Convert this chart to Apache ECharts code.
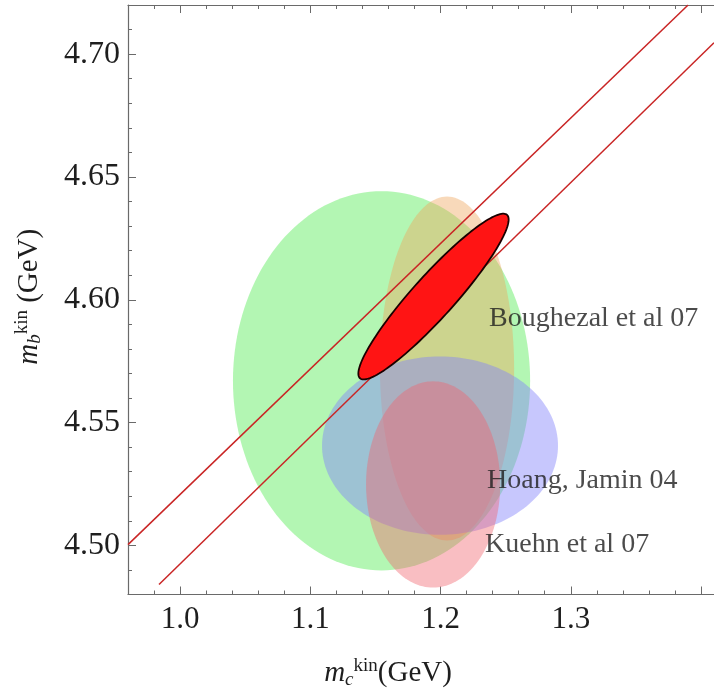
<!DOCTYPE html>
<html><head><meta charset="utf-8">
<script src="https://cdn.jsdelivr.net/npm/echarts@6/dist/echarts.min.js"></script>
<style>html,body{margin:0;padding:0;background:#fff}#c{width:714px;height:694px}</style>
</head><body><div id="c"></div>
<script>
// ---- axis ticks ----
const xMajorTicks = [1.0, 1.1, 1.2, 1.3];
const xMinorTicks = [0.96, 0.98, 1.02, 1.04, 1.06, 1.08, 1.12, 1.14, 1.16, 1.18, 1.22, 1.24, 1.26, 1.28, 1.32, 1.34, 1.36, 1.38, 1.40];
const yMajorTicks = [4.50, 4.55, 4.60, 4.65, 4.70];
const yMinorTicks = [4.48, 4.49, 4.51, 4.52, 4.53, 4.54, 4.56, 4.57, 4.58, 4.59, 4.61, 4.62, 4.63, 4.64, 4.66, 4.67, 4.68, 4.69, 4.71, 4.72];

// ---- regions: [centre x, centre y, half-axis A (dx, dy), half-axis B (dx, dy)] ----
const greenRegion  = [1.1547, 4.5670, 0.1141, 0, 0, 0.0772];
const boughezal07  = [1.2050, 4.5720, 0.0515, 0, 0, 0.0700];
const hoangJamin04 = [1.1996, 4.5406, 0.0906, 0, 0, 0.0363];
const kuehn07      = [1.1943, 4.5248, 0.0515, 0, 0, 0.0420];
const fitRegion    = [1.1946, 4.6013, 0.05645, 0.03326, 0.0120, -0.00570];

// ---- band lines ----
const upperLine = [[0.960, 4.5003], [1.3901, 4.7200]];
const lowerLine = [[0.9838, 4.4841], [1.4100, 4.7046]];

// ---- annotations ----
const labelTexts  = ['Boughezal et al 07', 'Hoang, Jamin 04', 'Kuehn et al 07'];
const labelPoints = [[1.2373, 4.5925], [1.2357, 4.5262], [1.2342, 4.5002]];

const SERIF = "'Liberation Serif', 'DejaVu Serif', serif";
const AXIS_COLOR = '#6a6a6a';
const TEXT = '#1e1e1e';

function ellipseSeries(region, fill, stroke, lw, z) {
  return {
    type: 'custom', z: z, clip: true, silent: true,
    data: [region],
    renderItem: function (params, api) {
      const cx = api.value(0), cy = api.value(1);
      const ax = api.value(2), ay = api.value(3), bx = api.value(4), by = api.value(5);
      const pts = [];
      const N = 160;
      for (let i = 0; i < N; i++) {
        const t = 2 * Math.PI * i / N;
        const c = Math.cos(t), s = Math.sin(t);
        pts.push(api.coord([cx + ax * c + bx * s, cy + ay * c + by * s]));
      }
      return { type: 'polygon', shape: { points: pts },
        style: { fill: fill, stroke: stroke || null, lineWidth: lw || 0 } };
    }
  };
}

function xAxisDef(pos, ticks, len, showLabel, showLine) {
  return {
    type: 'value', position: pos, min: 0.96, max: 1.41, gridIndex: 0,
    axisLine: { show: showLine, lineStyle: { color: AXIS_COLOR, width: 1.2 } },
    axisTick: { show: true, inside: true, length: len, customValues: ticks,
      lineStyle: { color: AXIS_COLOR, width: 1 } },
    axisLabel: { show: showLabel, customValues: ticks, margin: 10,
      formatter: v => v.toFixed(1), color: TEXT, fontFamily: SERIF, fontSize: 31 },
    splitLine: { show: false }
  };
}
function yAxisDef(pos, ticks, len, showLabel, showLine) {
  return {
    type: 'value', position: pos, min: 4.48, max: 4.72, gridIndex: 0,
    axisLine: { show: showLine, lineStyle: { color: AXIS_COLOR, width: 1.2 } },
    axisTick: { show: true, inside: true, length: len, customValues: ticks,
      lineStyle: { color: AXIS_COLOR, width: 1 } },
    axisLabel: { show: showLabel, customValues: ticks, margin: 8,
      formatter: v => v.toFixed(2), color: TEXT, fontFamily: SERIF, fontSize: 32 },
    splitLine: { show: false }
  };
}

const nameRich = {
  m: { fontSize: 29, fontStyle: 'italic', fontFamily: SERIF, color: TEXT, lineHeight: 34 },
  sub: { fontSize: 19, fontStyle: 'italic', fontFamily: SERIF, color: TEXT, padding: [12, 0, 0, 0] },
  sup: { fontSize: 19, fontFamily: SERIF, color: TEXT, padding: [0, 0, 14, 0] },
  n: { fontSize: 29, fontFamily: SERIF, color: TEXT }
};

const xMain = xAxisDef('bottom', xMajorTicks.concat([1.4]), 8, true, true);
xMain.axisLabel.customValues = xMajorTicks;
xMain.name = '{m|m}{sub|c}{sup|kin}{n|(GeV)}';
xMain.nameLocation = 'middle';
xMain.nameGap = 62;
xMain.nameTextStyle = { fontFamily: SERIF, color: TEXT, padding: [0, 66, 0, 0], rich: nameRich };

const yMain = yAxisDef('left', yMajorTicks, 8, true, true);
yMain.name = '{m|m}{sub|b}{sup|kin}{n| (GeV)}';
yMain.nameLocation = 'middle';
yMain.nameGap = 82;
yMain.nameRotate = 90;
yMain.nameTextStyle = { fontFamily: SERIF, color: TEXT, padding: [0, 0, 0, 6], rich: nameRich };

const option = {
  backgroundColor: '#fff',
  animation: false,
  grid: { left: 128, right: 0, top: 5, bottom: 97 },
  xAxis: [
    xMain,
    xAxisDef('bottom', xMinorTicks, 4, false, false),
    xAxisDef('top', xMajorTicks.concat([1.4]), 8, false, true),
    xAxisDef('top', xMinorTicks, 4, false, false)
  ],
  yAxis: [
    yMain,
    yAxisDef('left', yMinorTicks, 4, false, false)
  ],
  series: [
    ellipseSeries(greenRegion, 'rgba(110,238,110,0.52)', null, 0, 1),
    ellipseSeries(boughezal07, 'rgba(238,165,90,0.42)', null, 0, 2),
    ellipseSeries(hoangJamin04, 'rgba(130,130,250,0.45)', null, 0, 3),
    ellipseSeries(kuehn07, 'rgba(240,100,110,0.42)', null, 0, 4),
    { type: 'line', data: upperLine, symbol: 'none', clip: true, z: 5, silent: true,
      lineStyle: { color: '#c92525', width: 1.5 } },
    { type: 'line', data: lowerLine, symbol: 'none', clip: true, z: 5, silent: true,
      lineStyle: { color: '#c92525', width: 1.5 } },
    ellipseSeries(fitRegion, '#ff1414', '#1a0000', 1.8, 6),
    { type: 'scatter', z: 7, symbolSize: 0, silent: true,
      data: labelPoints.map((p, i) => ({ value: p, name: labelTexts[i] })),
      label: { show: true, position: 'right', distance: 0, formatter: p => p.name,
        fontFamily: SERIF, fontSize: 28, color: TEXT } }
  ]
};
echarts.init(document.getElementById('c')).setOption(option);
</script></body></html>
